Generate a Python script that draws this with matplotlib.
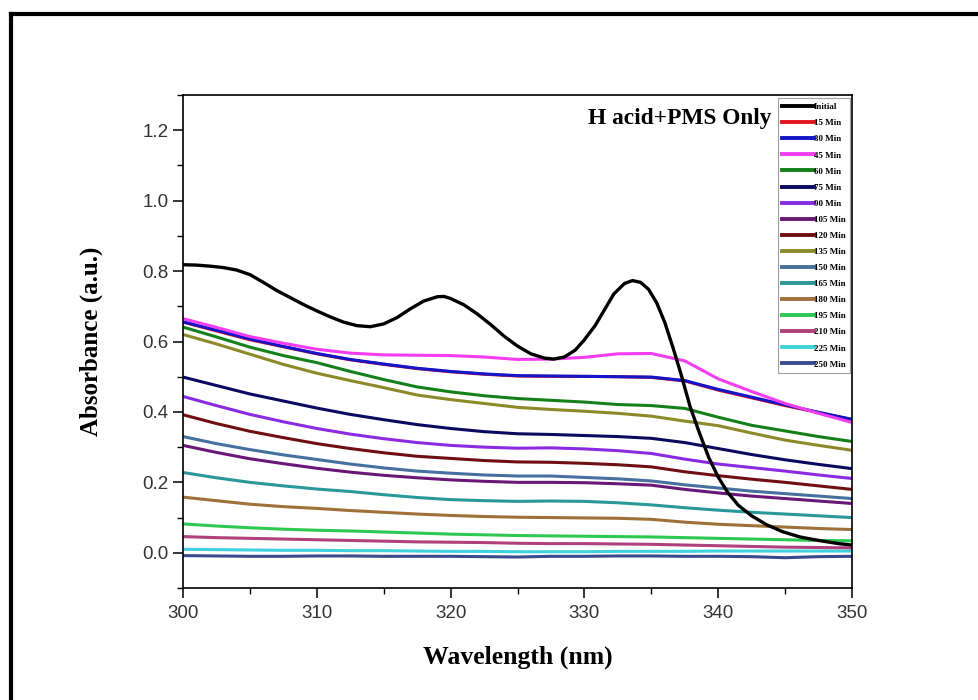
import matplotlib
matplotlib.use("Agg")
import matplotlib.pyplot as plt
from matplotlib.lines import Line2D
import numpy as np

# ---------------- data ----------------
x_init = [300, 301, 302, 303, 304, 305, 306, 307, 308, 309, 310, 311, 312, 313, 314, 315, 316,
          317, 318, 319, 319.5, 320, 321, 322, 323, 324, 325, 326, 327, 327.7, 328.5, 329.3,
          330, 330.8, 331.5, 332.2, 333, 333.6, 334.2, 334.8, 335.4, 336, 336.6, 337.2, 337.9,
          338.6, 339.3, 340, 340.7, 341.5, 342.5, 343.6, 344.8, 346.1, 347.5, 349, 350]
y_init = [0.818, 0.817, 0.814, 0.810, 0.803, 0.790, 0.768, 0.745, 0.725, 0.705, 0.687, 0.670,
          0.655, 0.645, 0.642, 0.650, 0.668, 0.693, 0.715, 0.727, 0.728, 0.722, 0.704, 0.678,
          0.648, 0.615, 0.587, 0.565, 0.553, 0.550, 0.556, 0.575, 0.605, 0.645, 0.690, 0.735,
          0.765, 0.773, 0.768, 0.748, 0.710, 0.655, 0.585, 0.510, 0.415, 0.340, 0.270, 0.215,
          0.172, 0.135, 0.105, 0.080, 0.060, 0.045, 0.035, 0.026, 0.022]

x_std = [300, 302.5, 305, 307.5, 310, 312.5, 315, 317.5, 320, 322.5, 325, 327.5, 330, 332.5,
         335, 337.5, 340, 342.5, 345, 347.5, 350]

labels = ["Initial", "15 Min", "30 Min", "45 Min", "60 Min", "75 Min", "90 Min", "105 Min",
          "120 Min", "135 Min", "150 Min", "165 Min", "180 Min", "195 Min", "210 Min",
          "225 Min", "250 Min"]

y15 = [0.655, 0.630, 0.605, 0.585, 0.565, 0.548, 0.535, 0.523, 0.514, 0.507, 0.502, 0.501,
       0.501, 0.500, 0.498, 0.488, 0.462, 0.440, 0.418, 0.398, 0.378]
y30 = [0.656, 0.632, 0.607, 0.586, 0.566, 0.549, 0.536, 0.524, 0.515, 0.508, 0.503, 0.502,
       0.501, 0.500, 0.499, 0.489, 0.464, 0.442, 0.420, 0.399, 0.379]
y45 = [0.665, 0.640, 0.614, 0.595, 0.578, 0.567, 0.562, 0.561, 0.560, 0.556, 0.549, 0.550,
       0.555, 0.565, 0.566, 0.545, 0.494, 0.458, 0.424, 0.396, 0.370]
y60 = [0.641, 0.613, 0.584, 0.560, 0.540, 0.515, 0.492, 0.471, 0.457, 0.446, 0.438, 0.433,
       0.428, 0.421, 0.418, 0.410, 0.385, 0.362, 0.346, 0.330, 0.316]
y75 = [0.499, 0.475, 0.451, 0.431, 0.411, 0.393, 0.378, 0.364, 0.353, 0.344, 0.338, 0.336,
       0.333, 0.330, 0.325, 0.313, 0.296, 0.279, 0.264, 0.251, 0.239]
y90 = [0.444, 0.418, 0.393, 0.372, 0.353, 0.337, 0.324, 0.313, 0.305, 0.300, 0.297, 0.298,
       0.295, 0.290, 0.282, 0.266, 0.252, 0.242, 0.232, 0.221, 0.211]
y105 = [0.305, 0.285, 0.267, 0.253, 0.240, 0.229, 0.220, 0.213, 0.207, 0.203, 0.200, 0.200,
        0.199, 0.196, 0.192, 0.180, 0.170, 0.161, 0.154, 0.147, 0.140]
y120 = [0.392, 0.367, 0.345, 0.327, 0.310, 0.296, 0.284, 0.274, 0.268, 0.262, 0.258, 0.257,
        0.254, 0.250, 0.244, 0.230, 0.219, 0.209, 0.200, 0.190, 0.180]
y135 = [0.620, 0.593, 0.564, 0.535, 0.510, 0.489, 0.469, 0.448, 0.435, 0.424, 0.413, 0.407,
        0.402, 0.396, 0.388, 0.374, 0.361, 0.340, 0.320, 0.305, 0.291]
y150 = [0.330, 0.310, 0.293, 0.278, 0.265, 0.252, 0.241, 0.232, 0.226, 0.221, 0.218, 0.218,
        0.214, 0.210, 0.204, 0.193, 0.184, 0.175, 0.168, 0.161, 0.154]
y165 = [0.228, 0.213, 0.200, 0.190, 0.181, 0.174, 0.165, 0.157, 0.151, 0.148, 0.146, 0.147,
        0.146, 0.142, 0.136, 0.128, 0.121, 0.115, 0.110, 0.105, 0.100]
y180 = [0.158, 0.148, 0.138, 0.131, 0.126, 0.120, 0.115, 0.110, 0.106, 0.103, 0.101, 0.100,
        0.099, 0.098, 0.095, 0.087, 0.081, 0.077, 0.073, 0.069, 0.066]
y195 = [0.082, 0.076, 0.071, 0.067, 0.064, 0.062, 0.059, 0.056, 0.053, 0.051, 0.049, 0.048,
        0.047, 0.046, 0.045, 0.043, 0.041, 0.039, 0.037, 0.035, 0.034]
y210 = [0.046, 0.043, 0.041, 0.039, 0.037, 0.035, 0.033, 0.031, 0.030, 0.029, 0.027, 0.026,
        0.026, 0.025, 0.024, 0.022, 0.020, 0.018, 0.016, 0.015, 0.014]
y225 = [0.010, 0.009, 0.008, 0.007, 0.007, 0.006, 0.006, 0.005, 0.004, 0.004, 0.003, 0.003,
        0.003, 0.004, 0.004, 0.004, 0.005, 0.005, 0.005, 0.005, 0.005]
y250 = [-0.008, -0.009, -0.010, -0.010, -0.009, -0.009, -0.010, -0.010, -0.010, -0.011, -0.012,
        -0.010, -0.010, -0.009, -0.009, -0.010, -0.010, -0.011, -0.014, -0.011, -0.010]

series = [y15, y30, y45, y60, y75, y90, y105, y120, y135, y150, y165, y180, y195, y210, y225, y250]

colors = ["#000000", "#e3141c", "#1414c8", "#f23ef0", "#15801a", "#0a0a60", "#8a2be2", "#6a1878",
          "#700f12", "#8c8a28", "#46709e", "#2a9898", "#a0703a", "#2ec850", "#b0407c", "#40d2dc",
          "#3a4a8c"]

# ---------------- figure ----------------
fig = plt.figure(figsize=(9.79, 7.0), dpi=100)
ax = fig.add_axes([183/979, (700-588)/700, (852-183)/979, (588-95)/700])

# draw order: lower layers first so the red 15 Min sits under the others
order = [1, 16, 15, 14, 13, 12, 11, 10, 7, 9, 8, 6, 5, 4, 2, 3]
for i in order:
    ax.plot(x_std, series[i-1], color=colors[i], lw=2.2, solid_capstyle="round")
ax.plot(x_init, y_init, color=colors[0], lw=2.4)

ax.set_xlim(300, 350)
ax.set_ylim(-0.1, 1.3)
ax.set_xticks([300, 310, 320, 330, 340, 350])
ax.set_xticks(np.arange(300, 351, 5), minor=True)
ax.set_yticks([0.0, 0.2, 0.4, 0.6, 0.8, 1.0, 1.2])
ax.set_yticks(np.arange(-0.1, 1.31, 0.1), minor=True)
ax.yaxis.set_major_formatter(matplotlib.ticker.FormatStrFormatter("%.1f"))
ax.tick_params(which="major", direction="out", length=7, width=1.1,
               labelsize=13.5, top=False, right=False)
ax.tick_params(axis="x", which="major", pad=5)
ax.tick_params(which="minor", direction="out", length=4, width=1.0, top=False, right=False)
for lab in ax.get_xticklabels() + ax.get_yticklabels():
    lab.set_fontfamily("Liberation Sans")
    lab.set_color("#333333")
for s in ax.spines.values():
    s.set_linewidth(1.2)

ax.set_xlabel("Wavelength (nm)", fontfamily="Liberation Serif", fontweight="bold",
              fontsize=18.5, labelpad=17)
ax.set_ylabel("Absorbance (a.u.)", fontfamily="Liberation Serif", fontweight="bold",
              fontsize=18, labelpad=28)

ax.text(0.880, 0.953, "H acid+PMS Only", transform=ax.transAxes, ha="right", va="center",
        fontfamily="Liberation Serif", fontweight="bold", fontsize=16.8)

handles = [Line2D([0], [0], color=c, lw=2.8) for c in colors]
leg = ax.legend(handles, labels, loc="upper right", bbox_to_anchor=(0.997, 0.993),
                prop={"family": "Liberation Serif", "weight": "bold", "size": 6.5},
                handlelength=3.5, handletextpad=0.0, labelspacing=0.86,
                borderpad=0.5, frameon=True, fancybox=False, edgecolor="#888888",
                borderaxespad=0.0)
leg.get_frame().set_linewidth(0.8)

# outer frame lines (top and left)
fig.add_artist(Line2D([11/979, 1.0], [(700-14)/700, (700-14)/700], color="black", lw=3.0,
                      transform=fig.transFigure))
fig.add_artist(Line2D([11/979, 11/979], [0.0, (700-14)/700], color="black", lw=3.0,
                      transform=fig.transFigure))

fig.savefig("out.png", dpi=100)
